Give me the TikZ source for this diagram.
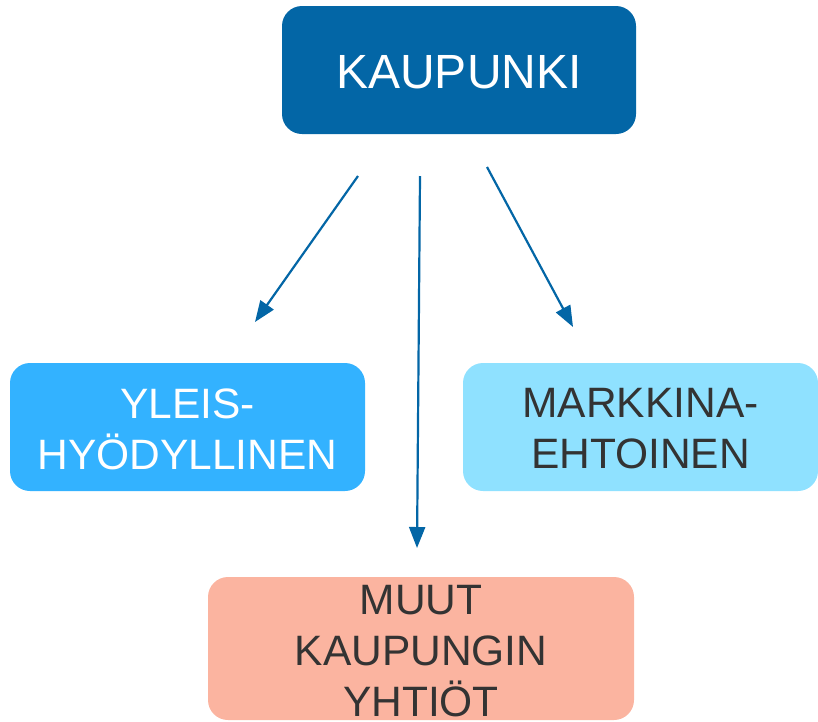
\documentclass[tikz,border=0pt]{standalone}
\usepackage{fontspec}
\setmainfont{Liberation Sans}
\usetikzlibrary{arrows.meta}
\definecolor{topblue}{HTML}{0366A6}
\definecolor{leftblue}{HTML}{33B2FF}
\definecolor{rightblue}{HTML}{8FE1FF}
\definecolor{salmon}{HTML}{FBB4A0}
\definecolor{darktext}{HTML}{333333}
\tikzset{
  box/.style={rectangle, rounded corners=20pt, draw=none, inner sep=0pt, anchor=center},
  lbl/.style={inner sep=0pt, align=center, font=\fontsize{42.5}{51}\selectfont},
  conn/.style={draw=topblue, line width=2.2pt, -{Triangle[length=21pt,width=16pt]}}
}
\begin{document}
\begin{tikzpicture}[x=1pt,y=-1pt]
\useasboundingbox (0,0) rectangle (818,721);
\node[box, fill=topblue, minimum width=354pt, minimum height=128pt] (top) at (459,70) {};
\node[inner sep=0pt, text=white, font=\fontsize{48}{56}\selectfont] (toplbl) at (459,72) {KAUPUNKI};
\node[box, fill=leftblue, minimum width=355pt, minimum height=128pt] (left) at (187.5,427) {};
\node[lbl, text=white] (leftlbl) at (187.5,429) {YLEIS-\\HYÖDYLLINEN};
\node[box, fill=rightblue, minimum width=355pt, minimum height=128pt] (right) at (640.5,427) {};
\node[lbl, text=darktext] (rightlbl) at (640.5,429) {MARKKINA-\\EHTOINEN};
\node[box, fill=salmon, minimum width=426pt, minimum height=143pt] (bot) at (421,648.5) {};
\node[lbl, text=darktext] (botlbl) at (421,651) {MUUT\\KAUPUNGIN\\YHTIÖT};
\coordinate (s1) at (358,176);
\coordinate (e1) at (255,322);
\coordinate (s2) at (420,176);
\coordinate (e2) at (417,548);
\coordinate (s3) at (487,167);
\coordinate (e3) at (573,327);
\draw[conn] (s1) -- (e1);
\draw[conn] (s2) -- (e2);
\draw[conn] (s3) -- (e3);
\end{tikzpicture}
\end{document}
